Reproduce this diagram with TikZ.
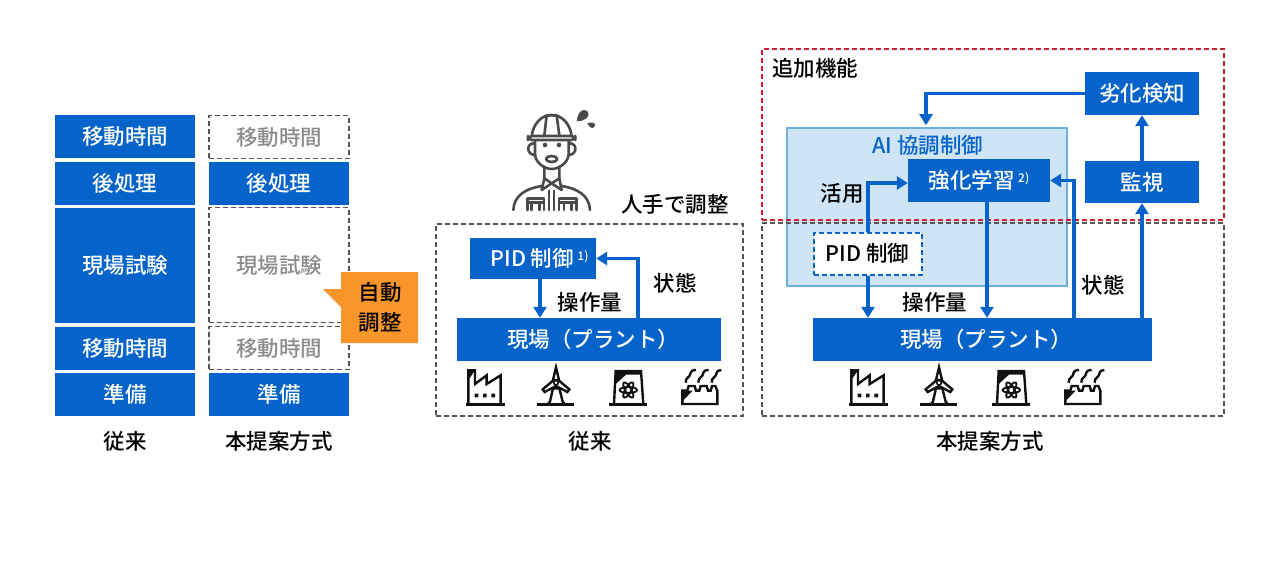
\documentclass[tikz,border=0pt]{standalone}
\usepackage{fontspec}
\setmainfont{Noto Sans CJK JP Medium}
\usetikzlibrary{arrows.meta,calc}
\definecolor{pblue}{HTML}{0563C9}
\definecolor{lblue}{HTML}{CFE4F5}
\definecolor{lborder}{HTML}{6FB0E3}
\definecolor{orng}{HTML}{F9962B}
\definecolor{dgray}{HTML}{555555}
\definecolor{mgray}{HTML}{8C8C8C}
\definecolor{dred}{HTML}{C8202F}
\definecolor{icon}{HTML}{111111}
\definecolor{wk}{HTML}{4A4A4A}
\newcommand{\lbl}{\fontsize{21.5}{25}\selectfont}
\tikzset{
  x=1pt,y=-1pt,
  txt/.style={inner sep=0pt,font=\lbl,text=black},
  bluebox/.style={fill=pblue,draw=none,inner sep=0pt,text=white,font=\lbl},
  ghost/.style={draw=dgray,line width=1.4pt,dash pattern=on 5pt off 3pt,fill=white,inner sep=0pt,text=mgray,font=\lbl},
  frame/.style={draw=dgray,line width=1.6pt,dash pattern=on 5pt off 3pt,fill=none,inner sep=0pt},
  redframe/.style={draw=dred,line width=1.6pt,dash pattern=on 5pt off 3pt,fill=none,inner sep=0pt},
  flow/.style={draw=pblue,line width=3.2pt,-{Triangle[length=11pt,width=13pt]}},
  ic/.style={draw=icon,line width=2.4pt,line join=miter},
  wkl/.style={draw=wk,line width=2.6pt,line cap=round,line join=round},
  factoryicon/.pic={
    \begin{scope}[scale=1/3]
      \draw[ic] (47,133)--(165,133);
      \draw[ic] (55,133)--(55,31)--(75,31)--(75,72)--(110,46)--(110,72)--(152,46)--(152,133);
      \fill[icon] (55,31)--(75,31)--(55,60)--cycle;
      \fill[icon] (74,101) rectangle (85,112) (99,101) rectangle (110,112) (124,101) rectangle (135,112);
    \end{scope}},
  turbineicon/.pic={
    \begin{scope}[scale=1/3]
      \draw[ic] (262,133)--(372,133);
      \draw[ic] (298,133)--(309,85)--(328,85)--(340,133);
      \fill[icon] (288,133)--(298,122)--(298,133)--cycle (350,133)--(340,122)--(340,133)--cycle;
      \draw[ic] (309,60)--(318,22)--(327,60)--cycle;
      \draw[ic] (309,62)--(278,88)--(284,96)--(318,78);
      \draw[ic] (327,62)--(358,88)--(352,96)--(318,78);
      \draw[icon,line width=1.6pt] (318,68) circle (7);
    \end{scope}},
  reactoricon/.pic={
    \begin{scope}[scale=1/3]
      \draw[ic] (478,133)--(590,133);
      \draw[ic] (492,133)--(497,33)--(573,33)--(580,133);
      \fill[icon] (497,33)--(573,33)--(573,44)--(528,44)--(497,72)--cycle;
      \draw[icon,line width=1.9pt] (535,90) ellipse (26 and 9);
      \draw[icon,line width=1.9pt,rotate around={60:(535,90)}] (535,90) ellipse (26 and 9);
      \draw[icon,line width=1.9pt,rotate around={-60:(535,90)}] (535,90) ellipse (26 and 9);
    \end{scope}},
  planticon/.pic={
    \begin{scope}[scale=1/3]
      \draw[ic] (697,132)--(697,92)--(712,92)--(716,78)--(734,78)--(738,92)--(748,92)--(752,78)--(770,78)--(774,92)--(782,92)--(786,78)--(796,78)--(802,92)--(802,132)--cycle;
      \fill[icon] (697,92)--(728,92)--(697,124)--cycle;
      \draw[ic] (707,68) .. controls (705,52) and (722,52) .. (722,38) .. controls (722,34) and (728,30) .. (738,30);
      \draw[ic] (745,68) .. controls (743,52) and (760,52) .. (760,38) .. controls (760,34) and (766,30) .. (776,30);
      \draw[ic] (785,68) .. controls (783,52) and (800,52) .. (800,38) .. controls (800,34) and (806,30) .. (814,30);
    \end{scope}}
}
\begin{document}
\begin{tikzpicture}
\useasboundingbox (0,0) rectangle (1280,560);
\fill[white] (0,0) rectangle (1280,560);
% left columns
\node[bluebox,minimum width=140pt,minimum height=43pt] (a1) at (125,136.5) {移動時間};
\node[bluebox,minimum width=140pt,minimum height=43pt] (a2) at (125,183.5) {後処理};
\node[bluebox,minimum width=140pt,minimum height=115pt] (a3) at (125,265.5) {現場試験};
\node[bluebox,minimum width=140pt,minimum height=43pt] (a4) at (125,348.5) {移動時間};
\node[bluebox,minimum width=140pt,minimum height=43pt] (a5) at (125,394.5) {準備};
\node[ghost,minimum width=140pt,minimum height=43pt] (b1) at (279,137) {移動時間};
\node[bluebox,minimum width=140pt,minimum height=43pt] (b2) at (279,183.5) {後処理};
\node[ghost,minimum width=140pt,minimum height=115pt] (b3) at (279,265) {現場試験};
\node[ghost,minimum width=140pt,minimum height=43pt] (b4) at (279,348) {移動時間};
\node[bluebox,minimum width=140pt,minimum height=43pt] (b5) at (279,394.5) {準備};
\node[txt] (c1) at (125,441) {従来};
\node[txt] (c2) at (279,441) {本提案方式};
% callout
\fill[orng] (323,289)--(341,289)--(341,272)--(418,272)--(418,343)--(341,343)--(341,307)--cycle;
\node[txt,align=center,font=\fontsize{21.5}{30}\selectfont] (auto) at (380,307.5) {自動\\調整};
% middle
\node[frame,minimum width=307pt,minimum height=192pt] (fm) at (589.5,320) {};
\node[bluebox,minimum width=126pt,minimum height=41pt] (pidm) at (533,258.5) {\hspace*{13pt}PID 制御\,\raisebox{6pt}{\fontsize{12}{12}\selectfont 1)}};
\node[bluebox,minimum width=264pt,minimum height=43pt] (gm) at (589,339.5) {\hspace*{8pt}現場（プラント）};
\coordinate (xm1) at (540,0);
\coordinate (xm2) at (638,0);
\draw[flow] (pidm.south -| xm1) -- (gm.north -| xm1);
\draw[flow] (gm.north -| xm2) -- (pidm.east -| xm2) -- (pidm.east);
\node[txt] (lm1) at (590,302) {操作量};
\node[txt] (lm2) at (675,283) {状態};
\node[txt] (lm3) at (675,204) {人手で調整};
\node[txt] (lm4) at (590,441) {従来};
% worker
\begin{scope}[shift={(500,100)},scale=1/3]
  \draw[wkl] (95,108) .. controls (100,70) and (125,45) .. (155,45) .. controls (185,45) and (210,70) .. (215,108);
  \draw[wkl] (133,106)--(140,46)--(170,46)--(178,106);
  \draw[wkl,rounded corners=4pt] (84,108) rectangle (226,120);
  \draw[wkl] (105,122)--(105,165) .. controls (108,190) and (135,207) .. (155,207) .. controls (175,207) and (203,190) .. (206,165)--(206,122);
  \draw[wkl] (104,130) .. controls (78,128) and (78,165) .. (106,165);
  \draw[wkl] (207,130) .. controls (233,128) and (233,165) .. (205,165);
  \fill[wk] (135,135) circle (7) (177,135) circle (7);
  \draw[wkl] (155,177) ellipse (17 and 9);
  \draw[wkl] (133,200)--(133,235)--(125,270)--(155,250)--(185,270)--(178,235)--(178,200);
  \draw[wkl] (133,235)--(155,250)--(178,235);
  \draw[wkl] (40,330) .. controls (42,285) and (80,265) .. (125,258);
  \draw[wkl] (270,330) .. controls (268,285) and (230,265) .. (185,258);
  \draw[wkl] (147,272)--(147,330) (162,272)--(162,330);
  \draw[wkl] (82,330)--(82,296)--(132,296)--(132,330) (82,308)--(132,308) (95,308)--(95,330) (118,308)--(118,330);
  \draw[wkl] (177,330)--(177,296)--(230,296)--(230,330) (177,308)--(230,308) (192,308)--(192,330) (215,308)--(215,330);
  \fill[wk] (230,64) .. controls (232,45) and (240,30) .. (252,30) .. controls (268,30) and (270,48) .. (258,56) .. controls (250,62) and (240,64) .. (230,64) --cycle;
  \fill[wk] (262,69) .. controls (272,66) and (285,68) .. (285,74) .. controls (285,88) and (268,88) .. (262,69) --cycle;
\end{scope}
% icons
\foreach \dx in {0,383}{
  \pic at (450+\dx,360) {factoryicon};
  \pic at (450+\dx,360) {turbineicon};
  \pic at (450+\dx,360) {reactoricon};
  \pic at (450+\dx,360) {planticon};
}
% right
\node[draw=lborder,line width=1.6pt,fill=lblue,minimum width=280pt,minimum height=158pt,inner sep=0pt] (ai) at (927,207) {};
\node[txt,text=pblue] (ait) at (928,145) {AI 協調制御};
\node[frame,minimum width=462pt,minimum height=193pt] (fr) at (993,319.5) {};
\node[redframe,minimum width=462pt,minimum height=171pt] (rr) at (993,134.5) {};
\node[bluebox,minimum width=142pt,minimum height=43pt] (rl) at (979,180.5) {強化学習\,\raisebox{6pt}{\fontsize{12}{12}\selectfont 2)}};
\node[draw=pblue,line width=2pt,dash pattern=on 5pt off 3pt,fill=white,inner sep=0pt,font=\lbl,minimum width=108pt,minimum height=42pt] (pidr) at (867.5,253.5) {PID 制御};
\node[bluebox,minimum width=339pt,minimum height=43pt] (gr) at (982.5,339.5) {\hspace*{7pt}現場（プラント）};
\node[bluebox,minimum width=114pt,minimum height=42pt] (mon) at (1142,182) {監視};
\node[bluebox,minimum width=114pt,minimum height=43pt] (det) at (1142,93.5) {劣化検知};
\coordinate (xr1) at (868,0);
\coordinate (xr2) at (987,0);
\coordinate (xr3) at (1074,0);
\coordinate (xr4) at (926,0);
\coordinate (yr1) at (0,183);
\draw[flow] (det.west) -- (det.west -| xr4) -- ($(ai.north -| xr4)+(0,-2)$);
\draw[flow] (mon.north) -- (det.south);
\draw[flow] (gr.north -| mon.south) -- (mon.south);
\draw[flow] (gr.north -| xr3) -- (rl.east -| xr3) -- (rl.east);
\draw[flow] (pidr.north -| xr1) -- (yr1 -| xr1) -- (yr1 -| rl.west);
\draw[flow] (pidr.south -| xr1) -- (gr.north -| xr1);
\draw[flow] (rl.south -| xr2) -- (gr.north -| xr2);
\node[txt] (lr1) at (815,68) {追加機能};
\node[txt] (lr2) at (842,193) {活用};
\node[txt] (lr3) at (935,302) {操作量};
\node[txt] (lr4) at (1103,285) {状態};
\node[txt] (lr5) at (990,441) {本提案方式};
\end{tikzpicture}
\end{document}
